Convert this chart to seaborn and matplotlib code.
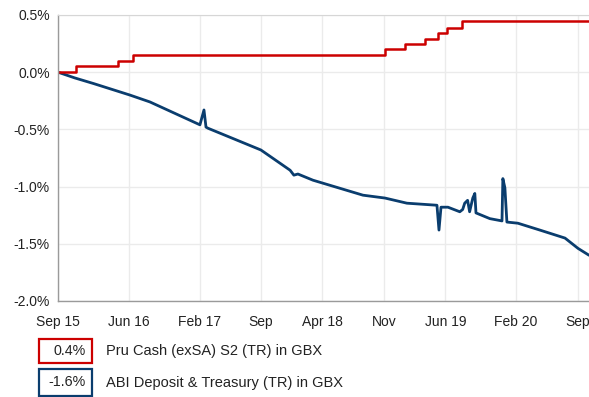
import matplotlib
matplotlib.use("Agg")
import matplotlib.pyplot as plt
from matplotlib.patches import Rectangle
import pandas as pd
import seaborn as sns

# Pru Cash (exSA) S2 (TR) in GBX - cumulative return, step changes
pru_dates = ["2015-09-30", "2015-12-01", "2016-04-24", "2016-06-14", "2018-11-04",
             "2019-01-12", "2019-03-22", "2019-05-06", "2019-06-06", "2019-07-28",
             "2020-10-10"]
pru_values = [0.0, 0.05, 0.10, 0.15, 0.20, 0.25, 0.29, 0.34, 0.39, 0.446, 0.446]

# ABI Deposit & Treasury (TR) in GBX - cumulative return
abi_dates = ["2015-09-30", "2015-11-27", "2016-02-01", "2016-06-05", "2016-08-13",
             "2017-02-02", "2017-02-16", "2017-02-23", "2017-03-02", "2017-09-01",
             "2017-12-11", "2017-12-24", "2018-01-07", "2018-02-28", "2018-08-20",
             "2018-11-04", "2019-01-19", "2019-05-03", "2019-05-10", "2019-05-17",
             "2019-06-10", "2019-07-21", "2019-07-31", "2019-08-07", "2019-08-17",
             "2019-08-24", "2019-09-04", "2019-09-11", "2019-09-15", "2019-11-02",
             "2019-12-14", "2019-12-17", "2019-12-24", "2019-12-31", "2020-02-07",
             "2020-04-23", "2020-07-19", "2020-09-02", "2020-10-10"]
abi_values = [0.0, -0.05, -0.10, -0.20, -0.26,
              -0.46, -0.33, -0.48, -0.49, -0.68,
              -0.857, -0.90, -0.89, -0.944, -1.075,
              -1.10, -1.145, -1.163, -1.38, -1.18,
              -1.18, -1.22, -1.20, -1.145, -1.12,
              -1.22, -1.10, -1.06, -1.23, -1.28,
              -1.30, -0.93, -1.01, -1.31, -1.32,
              -1.38, -1.45, -1.54, -1.60]

legend_values = ["0.4%", "-1.6%"]
legend_labels = ["Pru Cash (exSA) S2 (TR) in GBX", "ABI Deposit & Treasury (TR) in GBX"]
colors = ["#cc0000", "#0a3d6e"]

tick_dates = ["2015-09-30", "2016-06-01", "2017-02-01", "2017-09-01", "2018-04-01",
              "2018-11-01", "2019-06-01", "2020-02-01", "2020-09-01"]
tick_labels = ["Sep 15", "Jun 16", "Feb 17", "Sep", "Apr 18", "Nov", "Jun 19", "Feb 20", "Sep"]
y_ticks = [0.5, 0.0, -0.5, -1.0, -1.5, -2.0]

sns.set_style("white")
plt.rcParams["font.family"] = ["Liberation Sans", "DejaVu Sans"]

pru = pd.DataFrame({"date": pd.to_datetime(pru_dates), "value": pru_values})
abi = pd.DataFrame({"date": pd.to_datetime(abi_dates), "value": abi_values})

fig = plt.figure(figsize=(5.89, 3.97), dpi=100)
ax = fig.add_axes([58 / 589, 1 - 301 / 397, 531 / 589, 286 / 397])

sns.lineplot(data=abi, x="date", y="value", ax=ax, color=colors[1], linewidth=2.0)
sns.lineplot(data=pru, x="date", y="value", ax=ax, color=colors[0], linewidth=1.8,
             drawstyle="steps-post")

ax.set_xlim(pd.Timestamp("2015-09-30"), pd.Timestamp("2020-10-10"))
ax.set_ylim(-2.0, 0.5)
ax.set_xticks(pd.to_datetime(tick_dates))
ax.set_xticklabels(tick_labels)
ax.set_yticks(y_ticks)
ax.set_yticklabels([f"{v:.1f}%" for v in y_ticks])
ax.set_xlabel("")
ax.set_ylabel("")

ax.grid(True, color="#ebebeb", linewidth=1.0)
ax.set_axisbelow(True)
for side in ["left", "bottom"]:
    ax.spines[side].set_color("#9a9a9a")
    ax.spines[side].set_linewidth(1.0)
ax.spines["top"].set_color("#d6d6d6")
ax.spines["right"].set_visible(False)
ax.tick_params(axis="both", which="both", direction="out", length=3, width=1,
               color="#9a9a9a", labelsize=10, labelcolor="#222222", pad=3)
ax.tick_params(axis="x", pad=7)

# legend boxes below the plot
W, H = 589, 397
rows = [(339, 363), (369, 396)]
for (top, bot), val, lab, col in zip(rows, legend_values, legend_labels, colors):
    fig.patches.append(Rectangle((39 / W, 1 - bot / H), 53 / W, (bot - top) / H,
                                 transform=fig.transFigure, fill=False,
                                 edgecolor=col, linewidth=1.6))
    yc = 1 - (top + bot) / 2 / H
    fig.text(86 / W, yc, val, ha="right", va="center", fontsize=10.3, color="#222222")
    fig.text(106 / W, yc, lab, ha="left", va="center", fontsize=10.5, color="#222222")

fig.savefig("out.png", dpi=100)
